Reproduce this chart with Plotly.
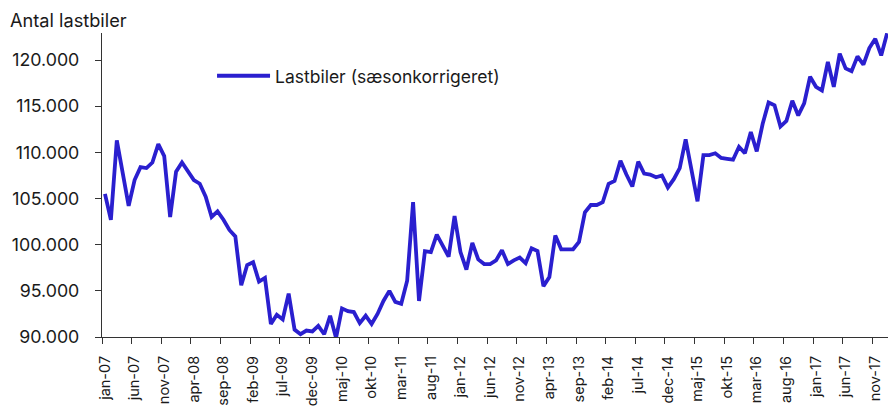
import plotly.graph_objects as go

months_da = ["jan", "feb", "mar", "apr", "maj", "jun", "jul", "aug", "sep", "okt", "nov", "dec"]
years = list(range(2007, 2019))

values = [
    105500, 102700, 111300, 107600, 104200, 107000, 108400, 108300, 108900, 110900, 109600, 103000,
    107900, 108900, 107900, 107000, 106600, 105200, 103000, 103600, 102700, 101600, 100900, 95600,
    97800, 98100, 96000, 96400, 91400, 92400, 91900, 94700, 90800, 90300, 90700, 90600,
    91200, 90300, 92300, 89900, 93100, 92800, 92700, 91500, 92300, 91400, 92500, 93900,
    95000, 93800, 93600, 96100, 104600, 93900, 99300, 99200, 101100, 100000, 98700, 103100,
    99200, 97300, 100200, 98400, 97900, 97900, 98300, 99400, 97900, 98300, 98600, 98000,
    99600, 99300, 95500, 96500, 101000, 99500, 99500, 99500, 100300, 103500, 104300, 104300,
    104600, 106600, 106900, 109100, 107600, 106300, 109000, 107700, 107600, 107300, 107500, 106200,
    107100, 108300, 111400, 108100, 104700, 109700, 109700, 109900, 109400, 109300, 109200, 110600,
    109900, 112200, 110100, 113100, 115400, 115100, 112800, 113400, 115600, 114000, 115300, 118200,
    117100, 116700, 119800, 117100, 120700, 119100, 118800, 120400, 119500, 121300, 122300, 120500,
    122900,
]

categories = [f"{m}-{str(y)[2:]}" for y in years for m in months_da][: len(values)]

series_name = "Lastbiler (sæsonkorrigeret)"
y_title = "Antal lastbiler"

FONT = "Inter, Liberation Sans, Arial, sans-serif"
TXT = "#1a1a1a"

fig = go.Figure()
fig.add_trace(go.Scatter(
    x=categories, y=values, mode="lines", name=series_name,
    line=dict(color="#2A1FCF", width=3.8),
))

fig.update_layout(
    width=888, height=406,
    margin=dict(l=102, r=0, t=33, b=69, autoexpand=False),
    paper_bgcolor="white", plot_bgcolor="white",
    separators=",.",
    font=dict(family=FONT, size=17, color=TXT),
    showlegend=True,
    legend=dict(
        x=0.14, y=0.859, xanchor="left", yanchor="middle",
        bgcolor="rgba(0,0,0,0)", font=dict(size=17.5, color=TXT),
        itemwidth=53,
    ),
    annotations=[dict(
        text=y_title, xref="paper", yref="paper", x=-0.1195, y=1.043,
        xanchor="left", yanchor="middle", showarrow=False,
        font=dict(size=18.2, color=TXT),
    )],
)

fig.update_xaxes(
    type="category", range=[-0.5, 132.15], automargin=False,
    tickmode="linear", tick0=0, dtick=5, tickson="boundaries",
    tickangle=-90, tickfont=dict(size=14.5, color=TXT),
    ticks="outside", ticklen=6, tickcolor="#333",
    showline=True, linecolor="#333", linewidth=1.2,
    showgrid=False, zeroline=False, ticklabelstandoff=12,
)
fig.update_yaxes(
    range=[90000, 122930], automargin=False,
    tickmode="linear", tick0=90000, dtick=5000,
    tickformat=",.0f", tickfont=dict(size=17.8, color=TXT),
    ticks="outside", ticklen=6, tickcolor="#333",
    showline=True, linecolor="#333", linewidth=1.2,
    showgrid=False, zeroline=False, ticklabelstandoff=12,
)

fig.write_html(
    "out.html",
    config={"displayModeBar": False},
    post_script="document.body.style.margin='0';",
)
